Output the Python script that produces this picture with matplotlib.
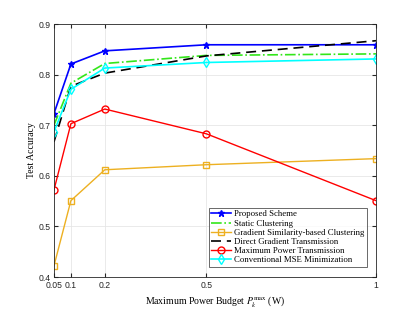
import matplotlib
matplotlib.use("Agg")
import matplotlib.pyplot as plt

power = [0.05, 0.1, 0.2, 0.5, 1.0]
xtick_labels = ["0.05", "0.1", "0.2", "0.5", "1"]

proposed = [0.723, 0.821, 0.847, 0.859, 0.859]
static_clust = [0.700, 0.783, 0.822, 0.838, 0.841]
grad_sim = [0.422, 0.551, 0.612, 0.622, 0.634]
direct_grad = [0.667, 0.777, 0.803, 0.837, 0.867]
max_power = [0.572, 0.703, 0.732, 0.683, 0.551]
mse_min = [0.687, 0.771, 0.813, 0.824, 0.831]

serif = "Liberation Serif"
plt.rcParams["mathtext.fontset"] = "stix"

fig = plt.figure(figsize=(4.15, 3.12), dpi=100)
ax = fig.add_axes([0.130, 0.112, 0.776, 0.811])

ax.plot(power, proposed, color="blue", marker="*", markersize=5, lw=1.2, label="Proposed Scheme")
ax.plot(power, static_clust, color=(0.2, 0.9, 0.1), ls="-.", lw=1.2, label="Static Clustering")
ax.plot(power, grad_sim, color=(0.93, 0.69, 0.13), marker="s", markersize=4, mfc="none", lw=1.0,
        label="Gradient Similarity-based Clustering")
ax.plot(power, direct_grad, color="black", ls=(0, (6, 3.5)), lw=1.2, label="Direct Gradient Transmission")
ax.plot(power, max_power, color="red", marker="o", markersize=5, mfc="none", lw=1.0,
        label="Maximum Power Transmission")
ax.plot(power, mse_min, color="cyan", marker="d", markersize=5, mfc="none", lw=1.2,
        label="Conventional MSE Minimization")

ax.set_xlim(0.05, 1.0)
ax.set_ylim(0.4, 0.9)
ax.set_xticks(power)
ax.set_xticklabels(xtick_labels)
ax.set_yticks([0.4, 0.5, 0.6, 0.7, 0.8, 0.9])
ax.tick_params(direction="in", labelsize=6.2, colors="#262626", length=3, top=True, right=True, pad=2.5)
for lab in ax.get_xticklabels() + ax.get_yticklabels():
    lab.set_color("#262626")
    lab.set_family("Liberation Sans")
ax.grid(True, color="#e6e6e6", lw=0.6)
for s in ax.spines.values():
    s.set_color("#262626")
    s.set_linewidth(0.6)

ax.set_xlabel(r"Maximum Power Budget $P_k^{\max}$ (W)", fontsize=7, family=serif, labelpad=3)
ax.set_ylabel("Test Accuracy", fontsize=7, family=serif, labelpad=1.5)

leg = ax.legend(loc="lower right", bbox_to_anchor=(0.972, 0.04), prop={"family": serif, "size": 6.3},
                fancybox=False, edgecolor="#262626", handlelength=2.2, borderpad=0.3,
                labelspacing=0.12, handletextpad=0.4, borderaxespad=0)
leg.get_frame().set_linewidth(0.6)

fig.savefig("out.png", dpi=100)
